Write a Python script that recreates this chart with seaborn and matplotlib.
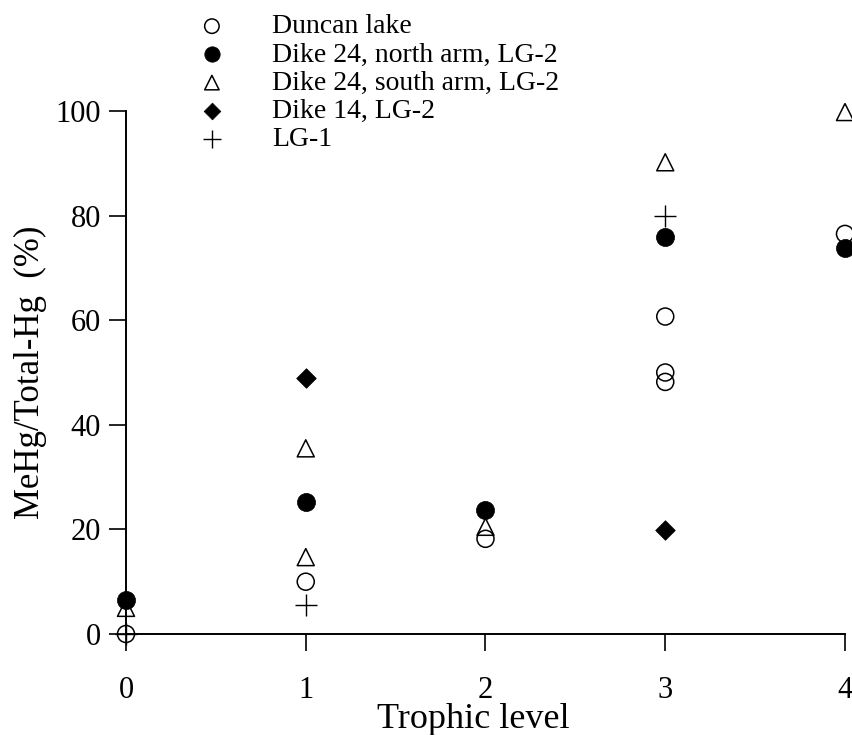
"""MeHg / Total-Hg ratio by trophic level, La Grande reservoirs."""
import matplotlib
matplotlib.use("Agg")
import matplotlib.pyplot as plt
import pandas as pd
import seaborn as sns

LABELS = [
    "Duncan lake", "Dike 24, north arm, LG-2", "Dike 24, south arm, LG-2",
    "Dike 14, LG-2", "LG-1",
]

DUNCAN_X = [0, 1, 2, 3, 3, 3, 4]
DUNCAN_Y = [0, 10, 18.2, 60.7, 50, 48.2, 76.5]
NORTH_X = [0, 1, 2, 3, 4]
NORTH_Y = [6.5, 25.3, 23.8, 76, 73.8]
SOUTH_X = [0, 1, 1, 2, 3, 4]
SOUTH_Y = [5, 35.5, 14.7, 20.5, 90.2, 99.8]
DIKE14_X = [1, 3]
DIKE14_Y = [49, 19.8]
LG1_X = [0, 1, 3]
LG1_Y = [0, 5.5, 80]

X_TICKS = [0, 1, 2, 3, 4]
Y_TICKS = [0, 20, 40, 60, 80, 100]


def main() -> None:
    sns.set_style("ticks")
    plt.rcParams["font.family"] = ["Liberation Serif", "DejaVu Serif"]
    plt.rcParams["text.color"] = "black"
    plt.rcParams["axes.labelcolor"] = "black"

    frames = []
    for lab, xs, ys in zip(LABELS, [DUNCAN_X, NORTH_X, SOUTH_X, DIKE14_X, LG1_X],
                           [DUNCAN_Y, NORTH_Y, SOUTH_Y, DIKE14_Y, LG1_Y]):
        frames.append(pd.DataFrame({"trophic": xs, "ratio": ys, "site": lab}))
    df = pd.concat(frames, ignore_index=True)

    # marker style per site: (marker, face, size, linewidth); drawing order matters
    styles = {
        "Duncan lake": ("o", "none", 150, 1.1),
        "Dike 24, south arm, LG-2": ("^", "none", 150, 1.1),
        "Dike 24, north arm, LG-2": ("o", "black", 170, 0.5),
        "Dike 14, LG-2": ("D", "black", 100, 0.5),
        "LG-1": ("+", "black", 230, 1.0),
    }

    fig = plt.figure(figsize=(8.53, 7.35), dpi=100)
    ax = fig.add_axes([126 / 853, 101 / 735, 719 / 853, 523 / 735])

    for lab in styles:
        m, face, s, lw = styles[lab]
        sub = df[df["site"] == lab]
        if m == "+":
            sns.scatterplot(data=sub, x="trophic", y="ratio", marker=m, s=s,
                            color="black", linewidth=lw, ax=ax, label=lab,
                            clip_on=False, zorder=5)
        else:
            sns.scatterplot(data=sub, x="trophic", y="ratio", marker=m, s=s,
                            facecolor=face, edgecolor="black", linewidth=lw,
                            ax=ax, label=lab, clip_on=False, zorder=5)
    h, lbl = ax.get_legend_handles_labels()
    handles = dict(zip(lbl, h))
    ax.get_legend().remove()

    ax.set_xlim(0, 4)
    ax.set_ylim(0, 100)
    ax.set_xticks(X_TICKS)
    ax.set_yticks(Y_TICKS)
    ax.tick_params(axis="both", direction="out", length=12, width=1.2,
                   labelsize=22, colors="black")
    ax.tick_params(axis="x", pad=18)
    ax.tick_params(axis="y", pad=6)
    for side in ["top", "right"]:
        ax.spines[side].set_visible(False)
    for side in ["left", "bottom"]:
        ax.spines[side].set_linewidth(1.4)
        ax.spines[side].set_color("black")

    ax.set_xlabel("Trophic level", fontsize=26, labelpad=-1)
    ax.xaxis.label.set_x(0.483)
    ax.set_ylabel("MeHg/Total-Hg  (%)", fontsize=25, labelpad=6)

    fig.legend([handles[l] for l in LABELS], LABELS, loc="upper left",
               bbox_to_anchor=(198 / 853, 1 - 14 / 735), frameon=False,
               fontsize=20, labelspacing=0.1, handletextpad=1.66,
               handlelength=1.0, borderpad=0, borderaxespad=0, markerscale=0.85)

    fig.savefig("out.png", dpi=100)
    plt.close(fig)


if __name__ == "__main__":
    main()
